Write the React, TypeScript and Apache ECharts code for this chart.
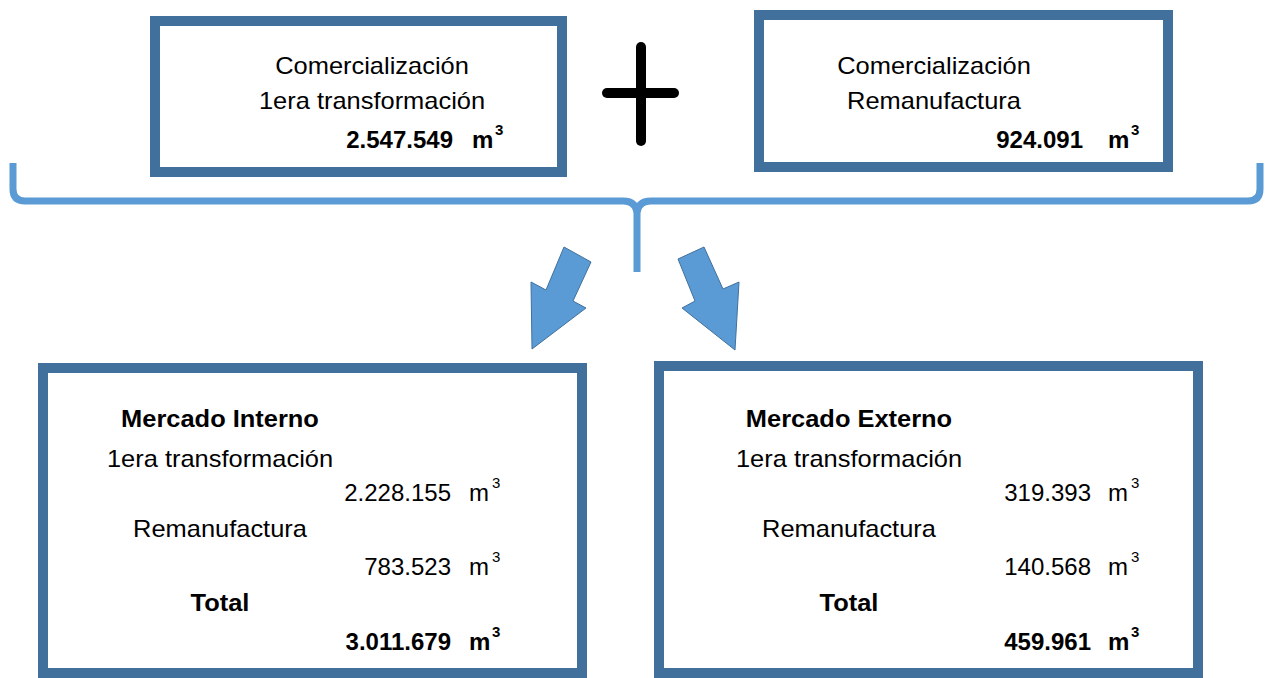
import React, { useEffect, useRef } from "react";
import * as echarts from "echarts";

// ---- data ----
const topTitles = [
  ["Comercialización", "1era transformación"],
  ["Comercialización", "Remanufactura"],
];
const topTotals = ["2.547.549", "924.091"];
const marketTitles = ["Mercado Interno", "Mercado Externo"];
const rowLabels = ["1era transformación", "Remanufactura"];
const totalLabel = "Total";
const internoValues = ["2.228.155", "783.523"];
const externoValues = ["319.393", "140.568"];
const marketTotals = ["3.011.679", "459.961"];
const unitLabel = "m";
const unitExp = "3";

const BRACE_D =
  "M13,163 L13,189 Q13,201 25,201 L623,201 Q637,201 637,215 L637,272 M637,215 Q637,201 651,201 L1248,201 Q1260,201 1260,189 L1260,163";
echarts.graphic.registerShape("brace", echarts.graphic.extendPath(BRACE_D, {}));

const FONT = "'Liberation Sans', Arial, sans-serif";
const BOX = "#41709C";
const LIGHT = "#5B9BD5";
const FS = 24;
const CENTRAL = 0.3465 * FS;
const SUP = 15;

function word(text: string, cx: number, base: number, bold = false) {
  return {
    type: "text",
    x: cx,
    y: base - CENTRAL,
    scaleX: 1.06,
    style: {
      text,
      fill: "#000",
      font: `${bold ? "bold " : ""}${FS}px ${FONT}`,
      align: "center",
      verticalAlign: "middle",
    },
  };
}

function quantity(num: string, right: number, mLeft: number, supLeft: number, base: number, bold = false) {
  const w = bold ? "bold " : "";
  return [
    {
      type: "text",
      x: right,
      y: base - CENTRAL,
      style: { text: num, fill: "#000", font: `${w}${FS}px ${FONT}`, align: "right", verticalAlign: "middle" },
    },
    {
      type: "text",
      x: mLeft,
      y: base - CENTRAL,
      style: { text: unitLabel, fill: "#000", font: `${w}${FS}px ${FONT}`, align: "left", verticalAlign: "middle" },
    },
    {
      type: "text",
      x: supLeft,
      y: base - 13 - 0.3465 * SUP,
      style: { text: unitExp, fill: "#000", font: `${w}${SUP}px ${FONT}`, align: "left", verticalAlign: "middle" },
    },
  ];
}

function box(x0: number, y0: number, x1: number, y1: number) {
  const lw = 10;
  return {
    type: "rect",
    shape: { x: x0 + lw / 2, y: y0 + lw / 2, width: x1 - x0 - lw, height: y1 - y0 - lw },
    style: { fill: "#fff", stroke: BOX, lineWidth: lw },
  };
}

export default function App() {
  const ref = useRef<HTMLDivElement>(null);
  useEffect(() => {
    if (!ref.current) return;
    const chart = echarts.init(ref.current, undefined, { renderer: "svg" });
    const els: any[] = [];

    // boxes
    els.push(box(150, 16, 567, 177));
    els.push(box(754, 10, 1173, 172));
    els.push(box(38, 363, 587, 678));
    els.push(box(654, 361, 1203, 678));

    // plus sign
    els.push({
      type: "line",
      shape: { x1: 641, y1: 47, x2: 641, y2: 141 },
      style: { stroke: "#000", lineWidth: 10, lineCap: "round" },
    });
    els.push({
      type: "line",
      shape: { x1: 607, y1: 93, x2: 674, y2: 93 },
      style: { stroke: "#000", lineWidth: 10, lineCap: "round" },
    });

    // brace
    els.push({ type: "brace", x: 0, y: 0, style: { fill: "none", stroke: LIGHT, lineWidth: 7 } });

    // arrows
    els.push({
      type: "polygon",
      shape: {
        points: [
          [564, 247], [591, 262], [573, 301], [586, 308], [532, 349], [531, 282], [546, 290],
        ],
      },
      style: { fill: LIGHT, stroke: "#41719C", lineWidth: 1 },
    });
    els.push({
      type: "polygon",
      shape: {
        points: [
          [704, 247], [678, 259], [695, 301], [682, 308], [735, 350], [739, 282], [723, 289],
        ],
      },
      style: { fill: LIGHT, stroke: "#41719C", lineWidth: 1 },
    });

    // top texts
    const topCenters = [372, 934];
    const topNum = [
      { r: 453, m: 472, s: 495 },
      { r: 1083, m: 1108, s: 1131 },
    ];
    topTitles.forEach((lines, i) => {
      els.push(word(lines[0], topCenters[i], 74));
      els.push(word(lines[1], topCenters[i], 109));
      els.push(...quantity(topTotals[i], topNum[i].r, topNum[i].m, topNum[i].s, 148, true));
    });

    // bottom texts
    const botCenters = [220, 849];
    const botNum = [
      { r: 451, m: 469, s: 492 },
      { r: 1091, m: 1108, s: 1131 },
    ];
    const vals = [internoValues, externoValues];
    marketTitles.forEach((t, i) => {
      const c = botCenters[i];
      const n = botNum[i];
      els.push(word(t, c, 427, true));
      els.push(word(rowLabels[0], c, 467));
      els.push(...quantity(vals[i][0], n.r, n.m, n.s, 501));
      els.push(word(rowLabels[1], c, 537));
      els.push(...quantity(vals[i][1], n.r, n.m, n.s, 575));
      els.push(word(totalLabel, c, 611, true));
      els.push(...quantity(marketTotals[i], n.r, n.m, n.s, 650, true));
    });

    chart.setOption({
      animation: false,
      backgroundColor: "#fff",
      graphic: { elements: els },
    });
    return () => chart.dispose();
  }, []);
  return (
    <div
      ref={ref}
      style={{ position: "fixed", left: 0, top: 0, width: 1265, height: 678 }}
    />
  );
}
